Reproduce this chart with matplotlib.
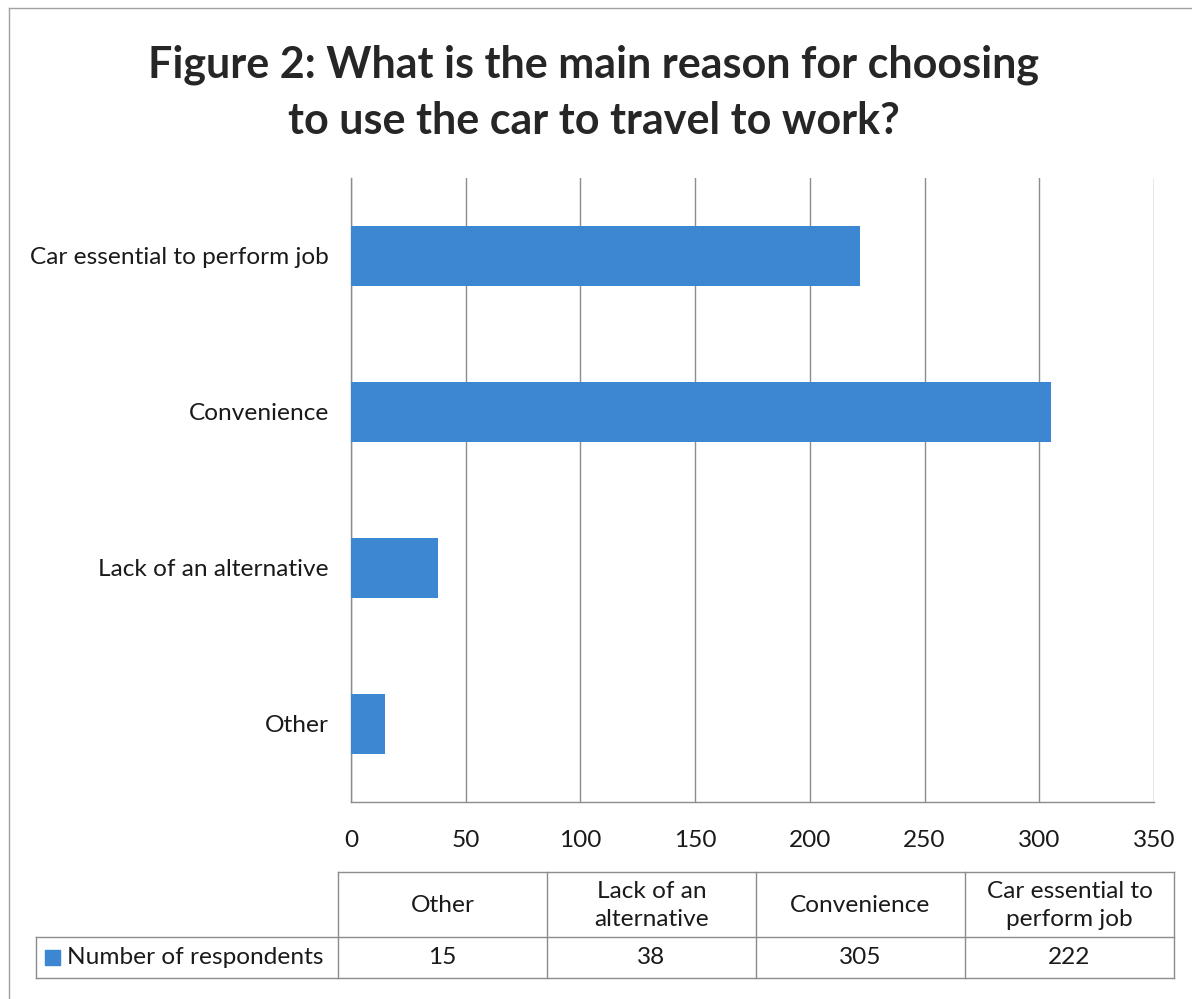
import numpy as np
import matplotlib.pyplot as plt

plt.rcParams['font.family'] = ['Lato', 'DejaVu Sans']

categories = ['Other', 'Lack of an alternative', 'Convenience', 'Car essential to perform job']
table_headers = ['Other', 'Lack of an\nalternative', 'Convenience', 'Car essential to\nperform job']
respondents = [15, 38, 305, 222]
series_name = 'Number of respondents'
title = 'Figure 2: What is the main reason for choosing\nto use the car to travel to work?'
xticks = [0, 50, 100, 150, 200, 250, 300, 350]

blue = '#3d86d2'
grid = '#8c8c8c'
txt = '#1a1a1a'
fs = 17.6
W, H = 1192, 999

fig = plt.figure(figsize=(W / 100, H / 100), dpi=100)
fig.patch.set_facecolor('white')

# overlay in pixel coords for border, title and data table
ov = fig.add_axes([0, 0, 1, 1])
ov.set_xlim(0, W)
ov.set_ylim(H, 0)
ov.axis('off')

ov.plot([9, W], [8, 8], color='#a0a0a0', lw=1)
ov.plot([9, 9], [8, H], color='#a0a0a0', lw=1)
ov.text(594, 93, title, ha='center', va='center', fontsize=31, fontweight='bold',
        color='#262626', linespacing=1.5)

# chart
ax = fig.add_axes([351 / W, 1 - 802 / H, (1154 - 351) / W, (802 - 178) / H])
y = np.arange(len(categories))
ax.barh(y, respondents, height=0.39, color=blue, zorder=3)
ax.set_xlim(0, 350)
ax.set_ylim(-0.5, 3.5)
ax.set_xticks(xticks)
ax.set_yticks(y)
ax.set_yticklabels(categories)
ax.tick_params(length=0, labelsize=fs, colors=txt)
ax.tick_params(axis='x', pad=20)
ax.tick_params(axis='y', pad=16)
ax.grid(axis='x', color=grid, lw=1, zorder=0)
for s in ['top', 'right']:
    ax.spines[s].set_visible(False)
for s in ['left', 'bottom']:
    ax.spines[s].set_color(grid)
    ax.spines[s].set_linewidth(1)

# data table
cols = [338, 547, 756, 965, 1174]
top, mid, bot = 872, 937, 978
lc = '#8c8c8c'
ov.plot([cols[0], cols[-1]], [top, top], color=lc, lw=1)
ov.plot([36, cols[-1]], [mid, mid], color=lc, lw=1)
ov.plot([36, cols[-1]], [bot, bot], color=lc, lw=1)
ov.plot([36, 36], [mid, bot], color=lc, lw=1)
for cx in cols:
    ov.plot([cx, cx], [top, bot], color=lc, lw=1)
for i, (h, v) in enumerate(zip(table_headers, respondents)):
    cx = (cols[i] + cols[i + 1]) / 2
    ov.text(cx, (top + mid) / 2 + 1, h, ha='center', va='center', fontsize=fs,
            color=txt, linespacing=1.45)
    ov.text(cx, (mid + bot) / 2, str(v), ha='center', va='center', fontsize=fs,
            color=txt)
ov.add_patch(plt.Rectangle((45, 950), 15, 15, color=blue))
ov.text(67, (mid + bot) / 2, series_name, ha='left', va='center', fontsize=fs,
        color=txt)

fig.savefig('out.png', dpi=100)
